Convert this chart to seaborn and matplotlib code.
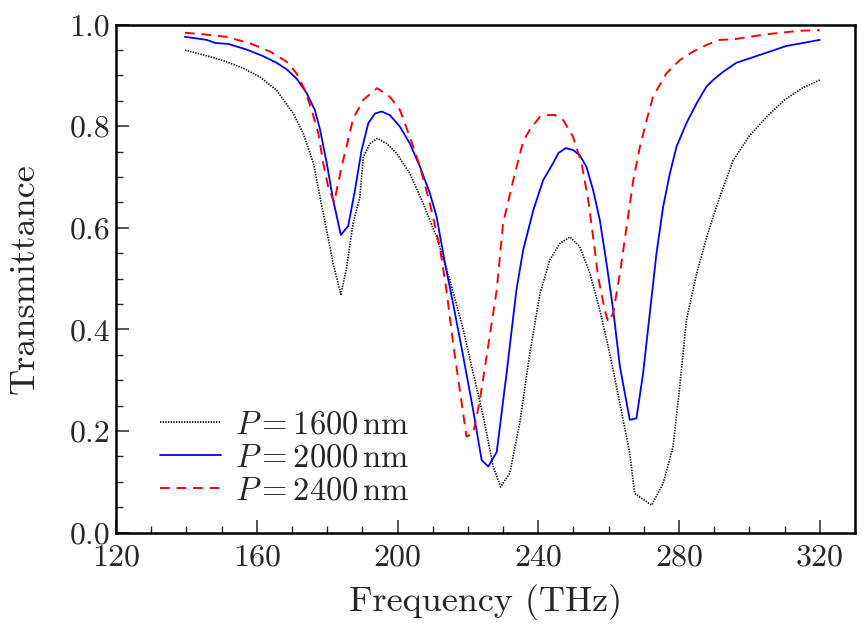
import numpy as np
import pandas as pd
import seaborn as sns
import matplotlib.pyplot as plt
from matplotlib.ticker import MultipleLocator, FuncFormatter

# P = 1600 nm (black dotted)
freq_1600 = [139.6, 146.7, 151.4, 156.2, 160.9, 165.6, 170.4, 173.2, 176.1, 178.9,
             181.7, 183.9, 185.5, 187.4, 189.3, 190.3, 192.2, 194.3, 196.9, 199.7,
             203.5, 207.3, 211.1, 214.9, 218.7, 221.5, 224.4, 227.2, 229.3, 231.9,
             234.8, 237.6, 240.5, 243.3, 246.1, 249.0, 251.8, 254.7, 257.5, 260.3,
             263.2, 266.0, 267.4, 272.2, 275.5, 278.3, 280.2, 282.1, 285.0, 287.8,
             289.7, 291.6, 295.4, 300.0, 305.0, 310.0, 315.0, 320.0]
trans_1600 = [0.950, 0.937, 0.927, 0.914, 0.897, 0.871, 0.825, 0.786, 0.727, 0.629,
              0.530, 0.469, 0.520, 0.610, 0.660, 0.740, 0.766, 0.776, 0.766, 0.747,
              0.707, 0.648, 0.582, 0.497, 0.399, 0.314, 0.228, 0.130, 0.090, 0.117,
              0.218, 0.353, 0.471, 0.537, 0.569, 0.582, 0.563, 0.510, 0.438, 0.353,
              0.254, 0.156, 0.077, 0.054, 0.097, 0.169, 0.287, 0.418, 0.510, 0.580,
              0.622, 0.661, 0.733, 0.781, 0.819, 0.852, 0.875, 0.891]

# P = 2000 nm (blue solid)
freq_2000 = [139.6, 145.8, 148.1, 151.9, 157.1, 161.8, 165.6, 168.5, 171.3, 174.2,
             176.5, 178.0, 179.9, 181.7, 183.9, 186.0, 187.9, 189.8, 191.7, 193.6,
             195.5, 197.8, 200.7, 203.5, 206.4, 209.2, 211.1, 213.5, 215.8, 218.7,
             221.5, 223.9, 225.8, 228.2, 231.0, 233.8, 235.7, 238.6, 241.4, 244.2,
             245.7, 247.8, 249.9, 251.8, 253.7, 255.6, 257.5, 259.4, 261.3, 263.2,
             266.0, 267.9, 269.8, 271.7, 273.6, 275.5, 277.4, 279.3, 282.1, 285.0,
             287.8, 289.7, 292.5, 296.3, 301.1, 305.8, 310.5, 315.3, 320.0]
trans_2000 = [0.976, 0.970, 0.964, 0.962, 0.951, 0.938, 0.925, 0.912, 0.894, 0.865,
              0.832, 0.793, 0.727, 0.655, 0.586, 0.604, 0.674, 0.753, 0.806, 0.825,
              0.829, 0.822, 0.799, 0.766, 0.720, 0.668, 0.622, 0.530, 0.451, 0.346,
              0.241, 0.143, 0.130, 0.159, 0.314, 0.478, 0.556, 0.635, 0.694, 0.727,
              0.747, 0.757, 0.753, 0.743, 0.720, 0.674, 0.615, 0.530, 0.438, 0.327,
              0.222, 0.225, 0.314, 0.432, 0.550, 0.642, 0.707, 0.760, 0.806, 0.845,
              0.878, 0.891, 0.907, 0.925, 0.936, 0.947, 0.958, 0.964, 0.970]

# P = 2400 nm (red dashed)
freq_2400 = [139.6, 144.8, 151.4, 158.1, 163.8, 168.5, 171.3, 173.7, 175.6, 177.5,
             178.9, 180.3, 182.0, 184.1, 185.5, 187.4, 190.3, 194.2, 197.8, 200.7,
             203.5, 206.4, 209.2, 212.0, 213.9, 215.8, 217.7, 219.6, 221.5, 223.4,
             225.3, 228.2, 230.0, 232.9, 235.7, 237.6, 240.5, 242.4, 244.7, 247.1,
             249.9, 252.3, 254.2, 255.6, 257.0, 258.9, 259.9, 261.3, 263.2, 265.1,
             267.0, 268.9, 270.8, 272.6, 276.4, 280.2, 284.0, 287.8, 291.6, 295.4,
             304.8, 314.3, 320.0]
trans_2400 = [0.984, 0.981, 0.976, 0.963, 0.947, 0.927, 0.904, 0.871, 0.832, 0.786,
              0.727, 0.681, 0.650, 0.720, 0.760, 0.815, 0.852, 0.875, 0.858, 0.832,
              0.779, 0.720, 0.648, 0.563, 0.478, 0.373, 0.281, 0.189, 0.195, 0.261,
              0.346, 0.478, 0.609, 0.694, 0.770, 0.793, 0.819, 0.822, 0.822, 0.812,
              0.779, 0.727, 0.655, 0.582, 0.504, 0.438, 0.415, 0.432, 0.510, 0.602,
              0.694, 0.760, 0.812, 0.858, 0.904, 0.930, 0.947, 0.960, 0.970, 0.971,
              0.981, 0.988, 0.989]

labels = [r'$P = 1600\,\mathrm{nm}$', r'$P = 2000\,\mathrm{nm}$', r'$P = 2400\,\mathrm{nm}$']

sns.set_style('ticks')
plt.rcParams['font.family'] = 'serif'
plt.rcParams['font.serif'] = ['cmr10', 'DejaVu Serif']
plt.rcParams['mathtext.fontset'] = 'cm'
plt.rcParams['axes.formatter.use_mathtext'] = True

fig = plt.figure(figsize=(8.63, 6.25), dpi=100)
ax = fig.add_axes([0.1344, 0.1478, 0.8563, 0.8128])

sns.lineplot(x=freq_1600, y=trans_1600, ax=ax, color='black', lw=1.2,
             linestyle=(0, (0.8, 0.8)), sort=False, label=labels[0])
sns.lineplot(x=freq_2000, y=trans_2000, ax=ax, color='#0000ff', lw=1.3,
             sort=False, label=labels[1])
sns.lineplot(x=freq_2400, y=trans_2400, ax=ax, color='#ff0000', lw=1.4,
             linestyle=(0, (5, 3.5)), sort=False, label=labels[2])

ax.set_xlim(120, 330)
ax.set_ylim(0, 1)
ax.xaxis.set_major_locator(MultipleLocator(40))
ax.xaxis.set_minor_locator(MultipleLocator(10))
ax.yaxis.set_major_locator(MultipleLocator(0.2))
ax.yaxis.set_minor_locator(MultipleLocator(0.05))
ax.xaxis.set_major_formatter(FuncFormatter(lambda v, p: f'{v:.0f}'))
ax.yaxis.set_major_formatter(FuncFormatter(lambda v, p: f'{v:.1f}'))
ax.tick_params(which='major', direction='in', length=9.5, width=1.1,
               labelsize=23, top=False, right=False)
ax.tick_params(axis='x', which='major', pad=8)
ax.tick_params(axis='y', which='major', pad=4)
ax.tick_params(which='minor', direction='in', length=5, width=1.0,
               top=False, right=False)
for s in ax.spines.values():
    s.set_linewidth(1.8)
    s.set_color('black')

ax.set_xlabel('Frequency (THz)', fontsize=26, labelpad=9)
ax.set_ylabel('Transmittance', fontsize=26, labelpad=21)

ax.legend(loc='upper left', bbox_to_anchor=(0.06, 0.24), frameon=False,
          fontsize=23.5, handlelength=1.85, handletextpad=0.45, labelspacing=0.12,
          borderpad=0, borderaxespad=0)

fig.savefig('out.png', dpi=100)
